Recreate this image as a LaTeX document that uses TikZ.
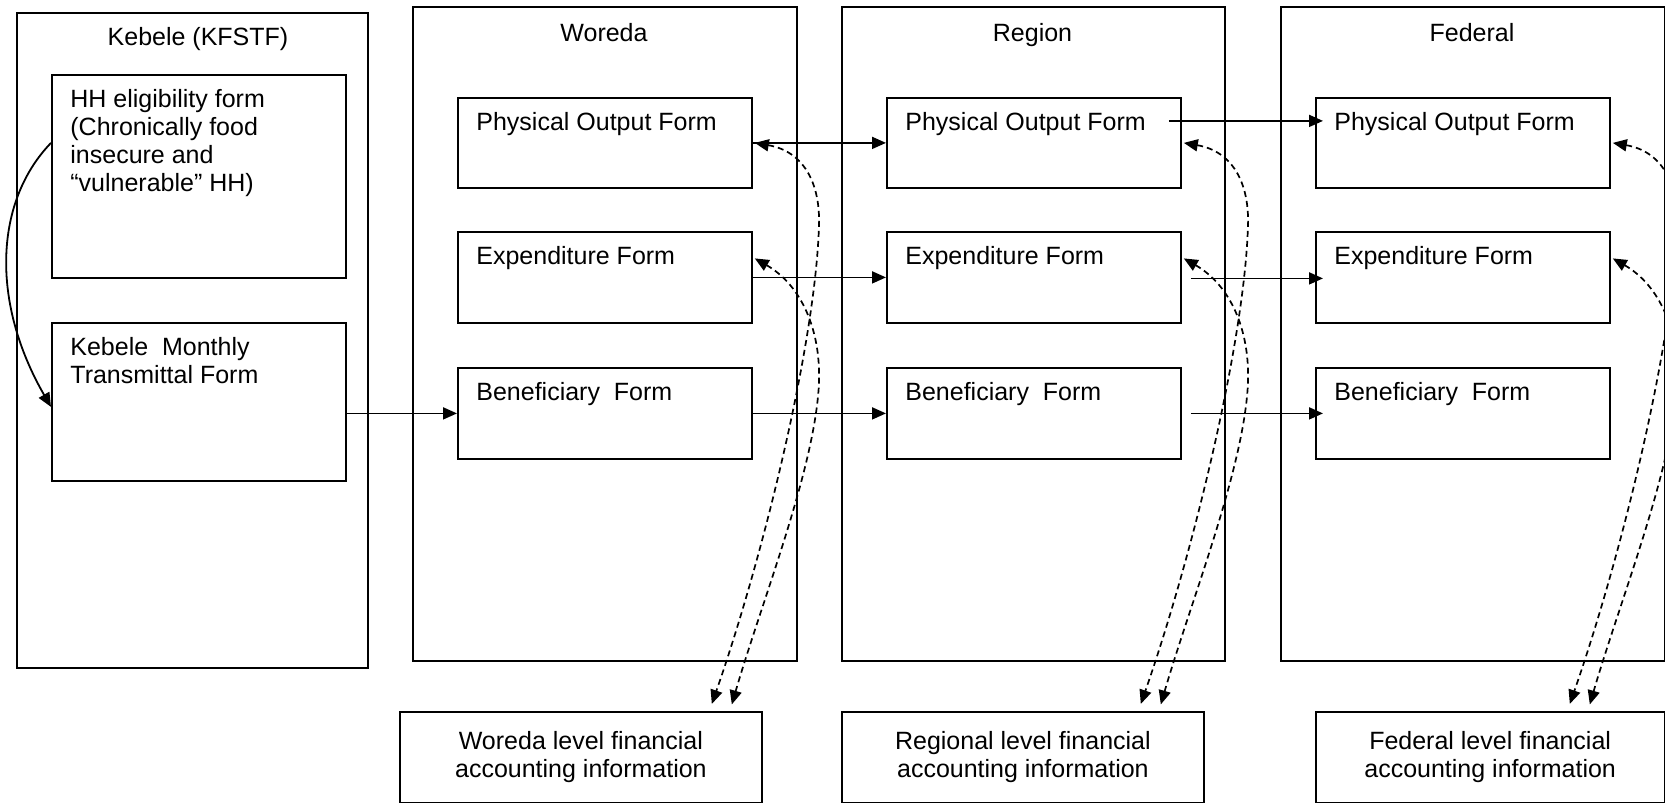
\documentclass[tikz,border=0pt]{standalone}
\usepackage{fontspec}
\setmainfont{Liberation Sans}
\usetikzlibrary{arrows.meta,calc}
\newcommand\formbox[5]{%
  \node[frame,minimum width=147pt,minimum height=#4] (#1) at (#2,#3) {};
  \node[txt] (#1-t) at ($(#1.north west)+(19,15)$) {#5};}
\newcommand\finlinks[2]{%
  \draw[dcurve] ($(#1.east)+(2,0)$) .. controls ($(#1.east)+(49,8)$) and ($(#1.east)+(69,38)$) .. ($(#1.east)+(66,88)$)
     .. controls ($(#1.east)+(61,208)$) and ($(#1.east)+(9,418)$) .. ($(#1.east)+(-41,561)$);
  \draw[dcurve] ($(#2.east)+(2,-19)$) .. controls ($(#2.east)+(49,8)$) and ($(#2.east)+(69,54)$) .. ($(#2.east)+(66,109)$)
     .. controls ($(#2.east)+(61,194)$) and ($(#2.east)+(9,324)$) .. ($(#2.east)+(-21,427)$);}
\begin{document}
\begin{tikzpicture}[x=0.5pt,y=-0.5pt,
  every node/.style={font=\fontsize{12.5}{14}\selectfont},
  frame/.style={draw,line width=0.9pt,anchor=north west,inner sep=0pt},
  txt/.style={anchor=north west,inner sep=0pt,align=left},
  ttl/.style={anchor=base,inner sep=0pt},
  arr/.style={line width=0.9pt,-{Triangle[length=7pt,width=6pt]}},
  dcurve/.style={line width=0.85pt,dash pattern=on 3pt off 2pt,{Triangle[length=7pt,width=6pt]}-{Triangle[length=7pt,width=6pt]}},
]
\clip (0,0) rectangle (1665,803);
\fill[white] (0,0) rectangle (1665,803);

% outer columns
\node[frame,minimum width=175.5pt,minimum height=327.5pt] (keb) at (16,12) {};
\node[ttl] (keb-t) at (198,46) {Kebele (KFSTF)};
\node[frame,minimum width=192pt,minimum height=327pt] (wor) at (412,6) {};
\node[ttl] (wor-t) at (604,41) {Woreda};
\node[frame,minimum width=191.5pt,minimum height=327pt] (reg) at (841,6) {};
\node[ttl] (reg-t) at (1032.5,41) {Region};
\node[frame,minimum width=191.75pt,minimum height=327pt] (fed) at (1280,6) {};
\node[ttl] (fed-t) at (1472,41) {Federal};

% kebele forms
\formbox{hh}{51}{74}{101.5pt}{HH eligibility form\\(Chronically food\\insecure and\\“vulnerable” HH)}
\formbox{kmt}{51}{322}{79pt}{Kebele\ \ Monthly\\Transmittal Form}

% woreda forms
\formbox{wphys}{457}{97}{45pt}{Physical Output Form}
\formbox{wexp}{457}{231}{45.5pt}{Expenditure Form}
\formbox{wben}{457}{367}{45.5pt}{Beneficiary\ \ Form}
% region forms
\formbox{rphys}{886}{97}{45pt}{Physical Output Form}
\formbox{rexp}{886}{231}{45.5pt}{Expenditure Form}
\formbox{rben}{886}{367}{45.5pt}{Beneficiary\ \ Form}
% federal forms
\formbox{fphys}{1315}{97}{45pt}{Physical Output Form}
\formbox{fexp}{1315}{231}{45.5pt}{Expenditure Form}
\formbox{fben}{1315}{367}{45.5pt}{Beneficiary\ \ Form}

% financial information boxes
\node[frame,minimum width=181pt,minimum height=45.5pt,align=center] (wfin) at (399,711) {Woreda level financial\\accounting information};
\node[frame,minimum width=181pt,minimum height=45.5pt,align=center] (rfin) at (841,711) {Regional level financial\\accounting information};
\node[frame,minimum width=174.25pt,minimum height=45.5pt,align=center] (ffin) at (1315,711) {Federal level financial\\accounting information};

% solid connectors
\draw[arr] ($(hh.west)+(0,-33.5)$) .. controls ($(hh.west)+(-56,24.5)$) and ($(kmt.west)+(-61,-101)$) .. ($(kmt.west)+(0,5)$);
\draw[arr] (kmt.east |- wben.west) -- (wben.west);
\draw[arr] (wphys.east) -- (rphys.west);
\draw[arr] (wexp.east) -- (rexp.west);
\draw[arr] (wben.east) -- (rben.west);
\draw[arr] ($(rphys.east)+(-13,-22)$) -- ($(fphys.west)+(8,-22)$);
\draw[arr] ($(rexp.east)+(9,1)$) -- ($(fexp.west)+(8,1)$);
\draw[arr] ($(rben.east)+(9,0)$) -- ($(fben.west)+(8,0)$);

% dashed links to financial information
\finlinks{wphys}{wexp}
\finlinks{rphys}{rexp}
\finlinks{fphys}{fexp}
\end{tikzpicture}
\end{document}
